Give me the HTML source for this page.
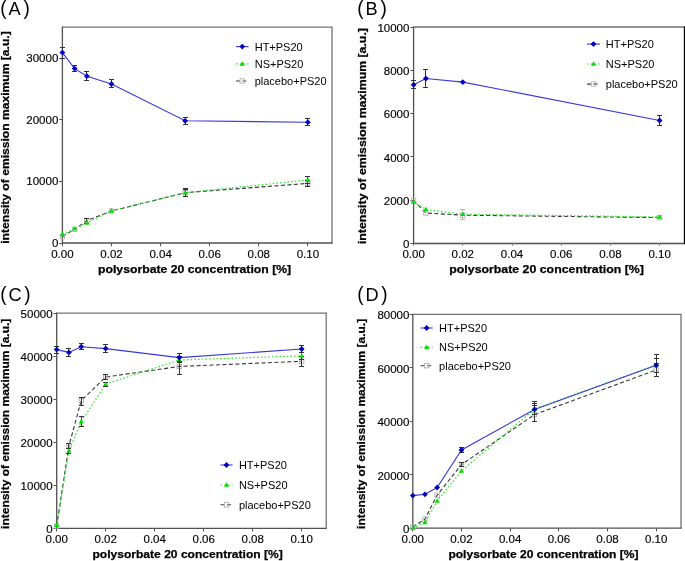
<!DOCTYPE html>
<html><head><meta charset="utf-8"><style>
html,body{margin:0;padding:0;background:#fff;width:685px;height:561px;overflow:hidden}
svg{display:block;font-family:"Liberation Sans", sans-serif;will-change:transform}
</style></head><body>
<svg width="685" height="561" viewBox="0 0 685 561">
<rect width="685" height="561" fill="#fff"/>
<text transform="translate(0.2,14.9) scale(1,1.07)" font-size="19" fill="#000">(</text>
<text x="8.5" y="14.9" font-size="18.2" fill="#000">A</text>
<text transform="translate(23.4,14.9) scale(1,1.07)" font-size="19" fill="#000">)</text>
<path d="M62.4 27.2H332V243" stroke="#727272" stroke-width="1.3" fill="none"/>
<path d="M62.4 26.6V243H332.6" stroke="#505050" stroke-width="1.3" fill="none"/>
<path d="M59.2 243.5H62.4" stroke="#505050" stroke-width="1"/>
<text x="58.3" y="247.1" font-size="11.5" text-anchor="end" fill="#000" stroke="#000" stroke-width="0.15">0</text>
<path d="M59.2 181.5H62.4" stroke="#505050" stroke-width="1"/>
<text x="58.3" y="185.44" font-size="11.5" text-anchor="end" fill="#000" stroke="#000" stroke-width="0.15">10000</text>
<path d="M59.2 119.5H62.4" stroke="#505050" stroke-width="1"/>
<text x="58.3" y="123.79" font-size="11.5" text-anchor="end" fill="#000" stroke="#000" stroke-width="0.15">20000</text>
<path d="M59.2 58.5H62.4" stroke="#505050" stroke-width="1"/>
<text x="58.3" y="62.13" font-size="11.5" text-anchor="end" fill="#000" stroke="#000" stroke-width="0.15">30000</text>
<path d="M62.5 243V246.2" stroke="#505050" stroke-width="1"/>
<text x="62.4" y="257.5" font-size="11.5" text-anchor="middle" fill="#000" stroke="#000" stroke-width="0.15">0.00</text>
<path d="M111.5 243V246.2" stroke="#505050" stroke-width="1"/>
<text x="111.5" y="257.5" font-size="11.5" text-anchor="middle" fill="#000" stroke="#000" stroke-width="0.15">0.02</text>
<path d="M160.5 243V246.2" stroke="#505050" stroke-width="1"/>
<text x="160.6" y="257.5" font-size="11.5" text-anchor="middle" fill="#000" stroke="#000" stroke-width="0.15">0.04</text>
<path d="M209.5 243V246.2" stroke="#505050" stroke-width="1"/>
<text x="209.7" y="257.5" font-size="11.5" text-anchor="middle" fill="#000" stroke="#000" stroke-width="0.15">0.06</text>
<path d="M258.5 243V246.2" stroke="#505050" stroke-width="1"/>
<text x="258.8" y="257.5" font-size="11.5" text-anchor="middle" fill="#000" stroke="#000" stroke-width="0.15">0.08</text>
<path d="M307.5 243V246.2" stroke="#505050" stroke-width="1"/>
<text x="307.9" y="257.5" font-size="11.5" text-anchor="middle" fill="#000" stroke="#000" stroke-width="0.15">0.10</text>
<text x="98" y="273.2" font-size="11" font-weight="bold" fill="#000" stroke="#000" stroke-width="0.25" textLength="193.2" lengthAdjust="spacingAndGlyphs">polysorbate 20 concentration [%]</text>
<text transform="translate(8.8,137.5) rotate(-90)" x="0" y="0" font-size="11" font-weight="bold" text-anchor="middle" fill="#000" stroke="#000" stroke-width="0.25" textLength="212.5" lengthAdjust="spacingAndGlyphs">intensity of emission maximum [a.u.]</text>
<polyline points="62.4,236.4 74.67,229.3 86.95,220.5 111.5,211 185.15,192.7 307.9,183.4" fill="none" stroke="#383838" stroke-width="1.1" stroke-dasharray="4 2.5"/>
<polyline points="62.4,234.3 74.67,228.7 86.95,222.8 111.5,210.8 185.15,192.7 307.9,180" fill="none" stroke="#22ee22" stroke-width="1.2" stroke-dasharray="1.6 2.1"/>
<polyline points="62.4,52.6 74.67,68.6 86.95,76.2 111.5,84 185.15,120.8 307.9,122.2" fill="none" stroke="#3838dc" stroke-width="1.1"/>
<rect x="60.2" y="234.2" width="4.4" height="4.4" fill="none" stroke="#b0b0b0" stroke-width="0.9"/>
<rect x="72.47" y="227.1" width="4.4" height="4.4" fill="none" stroke="#b0b0b0" stroke-width="0.9"/>
<rect x="84.75" y="218.3" width="4.4" height="4.4" fill="none" stroke="#b0b0b0" stroke-width="0.9"/>
<path d="M86.5 218.5V223.5M84 218.5H89M84 223.5H89" stroke="#333333" stroke-width="1" fill="none"/>
<rect x="109.3" y="208.8" width="4.4" height="4.4" fill="none" stroke="#b0b0b0" stroke-width="0.9"/>
<rect x="182.95" y="190.5" width="4.4" height="4.4" fill="none" stroke="#b0b0b0" stroke-width="0.9"/>
<path d="M185.5 189.5V196.5M183 189.5H188M183 196.5H188" stroke="#333333" stroke-width="1" fill="none"/>
<rect x="305.7" y="181.2" width="4.4" height="4.4" fill="none" stroke="#b0b0b0" stroke-width="0.9"/>
<path d="M307.5 180.5V186.5M305 180.5H310M305 186.5H310" stroke="#333333" stroke-width="1" fill="none"/>
<polygon points="62.4,231.54 64.9,236.14 59.9,236.14" fill="#00dd00"/>
<polygon points="74.67,225.94 77.17,230.54 72.17,230.54" fill="#00dd00"/>
<polygon points="86.95,220.04 89.45,224.64 84.45,224.64" fill="#00dd00"/>
<polygon points="111.5,208.04 114,212.64 109,212.64" fill="#00dd00"/>
<path d="M185.5 188.5V196.5M183 188.5H188M183 196.5H188" stroke="#333333" stroke-width="1" fill="none"/>
<polygon points="185.15,189.94 187.65,194.54 182.65,194.54" fill="#00dd00"/>
<path d="M307.5 176.5V183.5M305 176.5H310M305 183.5H310" stroke="#333333" stroke-width="1" fill="none"/>
<polygon points="307.9,177.24 310.4,181.84 305.4,181.84" fill="#00dd00"/>
<path d="M62.5 47.5V58.5M60 47.5H65M60 58.5H65" stroke="#333333" stroke-width="1" fill="none"/>
<polygon points="62.4,49.7 65.3,52.6 62.4,55.5 59.5,52.6" fill="#0000c0"/>
<path d="M74.5 65.5V71.5M72 65.5H77M72 71.5H77" stroke="#333333" stroke-width="1" fill="none"/>
<polygon points="74.67,65.7 77.58,68.6 74.67,71.5 71.77,68.6" fill="#0000c0"/>
<path d="M86.5 71.5V80.5M84 71.5H89M84 80.5H89" stroke="#333333" stroke-width="1" fill="none"/>
<polygon points="86.95,73.3 89.85,76.2 86.95,79.1 84.05,76.2" fill="#0000c0"/>
<path d="M111.5 79.5V87.5M109 79.5H114M109 87.5H114" stroke="#333333" stroke-width="1" fill="none"/>
<polygon points="111.5,81.1 114.4,84 111.5,86.9 108.6,84" fill="#0000c0"/>
<path d="M185.5 117.5V124.5M183 117.5H188M183 124.5H188" stroke="#333333" stroke-width="1" fill="none"/>
<polygon points="185.15,117.9 188.05,120.8 185.15,123.7 182.25,120.8" fill="#0000c0"/>
<path d="M307.5 118.5V125.5M305 118.5H310M305 125.5H310" stroke="#333333" stroke-width="1" fill="none"/>
<polygon points="307.9,119.3 310.8,122.2 307.9,125.1 305,122.2" fill="#0000c0"/>
<path d="M236 46.6H248.5" stroke="#3838dc" stroke-width="1.1"/>
<polygon points="242.25,43.7 245.15,46.6 242.25,49.5 239.35,46.6" fill="#0000c0"/>
<path d="M236 63.8H248.5" stroke="#22ee22" stroke-width="1.2" stroke-dasharray="1.6 2.1"/>
<polygon points="242.25,61.04 244.75,65.64 239.75,65.64" fill="#00dd00"/>
<path d="M236 81H248.5" stroke="#383838" stroke-width="1.1" stroke-dasharray="4 2.5"/>
<rect x="240.05" y="78.8" width="4.4" height="4.4" fill="none" stroke="#b0b0b0" stroke-width="0.9"/>
<text x="254.7" y="50.6" font-size="11" fill="#000">HT+PS20</text>
<text x="254.7" y="67.8" font-size="11" fill="#000">NS+PS20</text>
<text x="254.7" y="85" font-size="11" fill="#000">placebo+PS20</text>
<text transform="translate(357.2,14.9) scale(1,1.07)" font-size="19" fill="#000">(</text>
<text x="365.5" y="14.9" font-size="18.2" fill="#000">B</text>
<text transform="translate(380.4,14.9) scale(1,1.07)" font-size="19" fill="#000">)</text>
<path d="M413.6 27H684.5V243.5" stroke="#727272" stroke-width="1.3" fill="none"/>
<path d="M413.6 26.4V243.5H685.1" stroke="#505050" stroke-width="1.3" fill="none"/>
<path d="M684.5 26.4V244.1" stroke="#000" stroke-width="1.2"/>
<path d="M410.4 243.5H413.6" stroke="#505050" stroke-width="1"/>
<text x="409.4" y="248.2" font-size="11.5" text-anchor="end" fill="#000" stroke="#000" stroke-width="0.15">0</text>
<path d="M410.4 200.5H413.6" stroke="#505050" stroke-width="1"/>
<text x="409.4" y="204.9" font-size="11.5" text-anchor="end" fill="#000" stroke="#000" stroke-width="0.15">2000</text>
<path d="M410.4 156.5H413.6" stroke="#505050" stroke-width="1"/>
<text x="409.4" y="161.6" font-size="11.5" text-anchor="end" fill="#000" stroke="#000" stroke-width="0.15">4000</text>
<path d="M410.4 113.5H413.6" stroke="#505050" stroke-width="1"/>
<text x="409.4" y="118.3" font-size="11.5" text-anchor="end" fill="#000" stroke="#000" stroke-width="0.15">6000</text>
<path d="M410.4 70.5H413.6" stroke="#505050" stroke-width="1"/>
<text x="409.4" y="75" font-size="11.5" text-anchor="end" fill="#000" stroke="#000" stroke-width="0.15">8000</text>
<path d="M410.4 27.5H413.6" stroke="#505050" stroke-width="1"/>
<text x="409.4" y="31.7" font-size="11.5" text-anchor="end" fill="#000" stroke="#000" stroke-width="0.15">10000</text>
<path d="M413.5 243.5V245.9" stroke="#8a8a8a" stroke-width="1"/>
<text x="413.6" y="258.1" font-size="11.5" text-anchor="middle" fill="#000" stroke="#000" stroke-width="0.15">0.00</text>
<path d="M462.5 243.5V245.9" stroke="#8a8a8a" stroke-width="1"/>
<text x="462.8" y="258.1" font-size="11.5" text-anchor="middle" fill="#000" stroke="#000" stroke-width="0.15">0.02</text>
<path d="M512.5 243.5V245.9" stroke="#8a8a8a" stroke-width="1"/>
<text x="512" y="258.1" font-size="11.5" text-anchor="middle" fill="#000" stroke="#000" stroke-width="0.15">0.04</text>
<path d="M561.5 243.5V245.9" stroke="#8a8a8a" stroke-width="1"/>
<text x="561.2" y="258.1" font-size="11.5" text-anchor="middle" fill="#000" stroke="#000" stroke-width="0.15">0.06</text>
<path d="M610.5 243.5V245.9" stroke="#8a8a8a" stroke-width="1"/>
<text x="610.4" y="258.1" font-size="11.5" text-anchor="middle" fill="#000" stroke="#000" stroke-width="0.15">0.08</text>
<path d="M659.5 243.5V245.9" stroke="#8a8a8a" stroke-width="1"/>
<text x="659.6" y="258.1" font-size="11.5" text-anchor="middle" fill="#000" stroke="#000" stroke-width="0.15">0.10</text>
<text x="449.3" y="273.4" font-size="11" font-weight="bold" fill="#000" stroke="#000" stroke-width="0.25" textLength="194.6" lengthAdjust="spacingAndGlyphs">polysorbate 20 concentration [%]</text>
<text transform="translate(366.2,136.1) rotate(-90)" x="0" y="0" font-size="11" font-weight="bold" text-anchor="middle" fill="#000" stroke="#000" stroke-width="0.25" textLength="216" lengthAdjust="spacingAndGlyphs">intensity of emission maximum [a.u.]</text>
<polyline points="413.6,200.5 425.9,213 462.8,215.2 659.6,217.6" fill="none" stroke="#383838" stroke-width="1.1" stroke-dasharray="4 2.5"/>
<polyline points="413.6,202 425.9,209.5 462.8,214.2 659.6,216.9" fill="none" stroke="#22ee22" stroke-width="1.2" stroke-dasharray="1.6 2.1"/>
<polyline points="413.6,84.8 425.9,78.5 462.8,82.1 659.6,120.5" fill="none" stroke="#3838dc" stroke-width="1.1"/>
<rect x="411.4" y="198.3" width="4.4" height="4.4" fill="none" stroke="#b0b0b0" stroke-width="0.9"/>
<rect x="423.7" y="210.8" width="4.4" height="4.4" fill="none" stroke="#b0b0b0" stroke-width="0.9"/>
<rect x="460.6" y="213" width="4.4" height="4.4" fill="none" stroke="#b0b0b0" stroke-width="0.9"/>
<path d="M462.5 209.5V219.5M460 209.5H465M460 219.5H465" stroke="#b8b8b8" stroke-width="1" fill="none"/>
<rect x="657.4" y="215.4" width="4.4" height="4.4" fill="none" stroke="#b0b0b0" stroke-width="0.9"/>
<polygon points="413.6,199.24 416.1,203.84 411.1,203.84" fill="#00dd00"/>
<polygon points="425.9,206.74 428.4,211.34 423.4,211.34" fill="#00dd00"/>
<polygon points="462.8,211.44 465.3,216.04 460.3,216.04" fill="#00dd00"/>
<polygon points="659.6,214.14 662.1,218.74 657.1,218.74" fill="#00dd00"/>
<path d="M413.5 80.5V88.5M411 80.5H416M411 88.5H416" stroke="#333333" stroke-width="1" fill="none"/>
<polygon points="413.6,81.9 416.5,84.8 413.6,87.7 410.7,84.8" fill="#0000c0"/>
<path d="M425.5 69.5V87.5M423 69.5H428M423 87.5H428" stroke="#333333" stroke-width="1" fill="none"/>
<polygon points="425.9,75.6 428.8,78.5 425.9,81.4 423,78.5" fill="#0000c0"/>
<polygon points="462.8,79.2 465.7,82.1 462.8,85 459.9,82.1" fill="#0000c0"/>
<path d="M659.5 115.5V125.5M657 115.5H662M657 125.5H662" stroke="#333333" stroke-width="1" fill="none"/>
<polygon points="659.6,117.6 662.5,120.5 659.6,123.4 656.7,120.5" fill="#0000c0"/>
<path d="M587 44.1H600" stroke="#3838dc" stroke-width="1.1"/>
<polygon points="593.5,41.2 596.4,44.1 593.5,47 590.6,44.1" fill="#0000c0"/>
<path d="M587 64H600" stroke="#22ee22" stroke-width="1.2" stroke-dasharray="1.6 2.1"/>
<polygon points="593.5,61.24 596,65.84 591,65.84" fill="#00dd00"/>
<path d="M587 84.1H600" stroke="#383838" stroke-width="1.1" stroke-dasharray="4 2.5"/>
<rect x="591.3" y="81.9" width="4.4" height="4.4" fill="none" stroke="#b0b0b0" stroke-width="0.9"/>
<text x="605.8" y="48.1" font-size="11" fill="#000">HT+PS20</text>
<text x="605.8" y="68" font-size="11" fill="#000">NS+PS20</text>
<text x="605.8" y="88.1" font-size="11" fill="#000">placebo+PS20</text>
<text transform="translate(0.2,300.9) scale(1,1.07)" font-size="19" fill="#000">(</text>
<text x="8.5" y="300.9" font-size="18.2" fill="#000">C</text>
<text transform="translate(24.2,300.9) scale(1,1.07)" font-size="19" fill="#000">)</text>
<path d="M56.7 313.1H326.2V528.3" stroke="#727272" stroke-width="1.3" fill="none"/>
<path d="M56.7 312.5V528.3H326.8" stroke="#505050" stroke-width="1.3" fill="none"/>
<path d="M53.5 528.5H56.7" stroke="#505050" stroke-width="1"/>
<text x="52.6" y="533" font-size="11.5" text-anchor="end" fill="#000" stroke="#000" stroke-width="0.15">0</text>
<path d="M53.5 485.5H56.7" stroke="#505050" stroke-width="1"/>
<text x="52.6" y="489.96" font-size="11.5" text-anchor="end" fill="#000" stroke="#000" stroke-width="0.15">10000</text>
<path d="M53.5 442.5H56.7" stroke="#505050" stroke-width="1"/>
<text x="52.6" y="446.92" font-size="11.5" text-anchor="end" fill="#000" stroke="#000" stroke-width="0.15">20000</text>
<path d="M53.5 399.5H56.7" stroke="#505050" stroke-width="1"/>
<text x="52.6" y="403.88" font-size="11.5" text-anchor="end" fill="#000" stroke="#000" stroke-width="0.15">30000</text>
<path d="M53.5 356.5H56.7" stroke="#505050" stroke-width="1"/>
<text x="52.6" y="360.84" font-size="11.5" text-anchor="end" fill="#000" stroke="#000" stroke-width="0.15">40000</text>
<path d="M53.5 313.5H56.7" stroke="#505050" stroke-width="1"/>
<text x="52.6" y="317.8" font-size="11.5" text-anchor="end" fill="#000" stroke="#000" stroke-width="0.15">50000</text>
<path d="M56.5 528.3V531.5" stroke="#505050" stroke-width="1"/>
<text x="56.7" y="543.3" font-size="11.5" text-anchor="middle" fill="#000" stroke="#000" stroke-width="0.15">0.00</text>
<path d="M105.5 528.3V531.5" stroke="#505050" stroke-width="1"/>
<text x="105.7" y="543.3" font-size="11.5" text-anchor="middle" fill="#000" stroke="#000" stroke-width="0.15">0.02</text>
<path d="M154.5 528.3V531.5" stroke="#505050" stroke-width="1"/>
<text x="154.7" y="543.3" font-size="11.5" text-anchor="middle" fill="#000" stroke="#000" stroke-width="0.15">0.04</text>
<path d="M203.5 528.3V531.5" stroke="#505050" stroke-width="1"/>
<text x="203.7" y="543.3" font-size="11.5" text-anchor="middle" fill="#000" stroke="#000" stroke-width="0.15">0.06</text>
<path d="M252.5 528.3V531.5" stroke="#505050" stroke-width="1"/>
<text x="252.7" y="543.3" font-size="11.5" text-anchor="middle" fill="#000" stroke="#000" stroke-width="0.15">0.08</text>
<path d="M301.5 528.3V531.5" stroke="#505050" stroke-width="1"/>
<text x="301.7" y="543.3" font-size="11.5" text-anchor="middle" fill="#000" stroke="#000" stroke-width="0.15">0.10</text>
<text x="92.4" y="557.9" font-size="11" font-weight="bold" fill="#000" stroke="#000" stroke-width="0.25" textLength="190.4" lengthAdjust="spacingAndGlyphs">polysorbate 20 concentration [%]</text>
<text transform="translate(8.8,423.8) rotate(-90)" x="0" y="0" font-size="11" font-weight="bold" text-anchor="middle" fill="#000" stroke="#000" stroke-width="0.25" textLength="210.2" lengthAdjust="spacingAndGlyphs">intensity of emission maximum [a.u.]</text>
<polyline points="56.7,526 68.95,445.7 81.2,400.7 105.7,377 179.2,366.5 301.7,361.3" fill="none" stroke="#383838" stroke-width="1.1" stroke-dasharray="4 2.5"/>
<polyline points="56.7,525.1 68.95,450.7 81.2,421.7 105.7,384.1 179.2,360 301.7,355.9" fill="none" stroke="#22ee22" stroke-width="1.2" stroke-dasharray="1.6 2.1"/>
<polyline points="56.7,349.6 68.95,352.4 81.2,346.7 105.7,348.6 179.2,357.6 301.7,349" fill="none" stroke="#3838dc" stroke-width="1.1"/>
<rect x="54.5" y="523.8" width="4.4" height="4.4" fill="none" stroke="#b0b0b0" stroke-width="0.9"/>
<rect x="66.75" y="443.5" width="4.4" height="4.4" fill="none" stroke="#b0b0b0" stroke-width="0.9"/>
<path d="M68.5 443.5V448.5M66 443.5H71M66 448.5H71" stroke="#333333" stroke-width="1" fill="none"/>
<rect x="79" y="398.5" width="4.4" height="4.4" fill="none" stroke="#b0b0b0" stroke-width="0.9"/>
<path d="M81.5 397.5V405.5M79 397.5H84M79 405.5H84" stroke="#333333" stroke-width="1" fill="none"/>
<rect x="103.5" y="374.8" width="4.4" height="4.4" fill="none" stroke="#b0b0b0" stroke-width="0.9"/>
<path d="M105.5 374.5V379.5M103 374.5H108M103 379.5H108" stroke="#333333" stroke-width="1" fill="none"/>
<rect x="177" y="364.3" width="4.4" height="4.4" fill="none" stroke="#b0b0b0" stroke-width="0.9"/>
<path d="M179.5 362.5V374.5M177 362.5H182M177 374.5H182" stroke="#333333" stroke-width="1" fill="none"/>
<rect x="299.5" y="359.1" width="4.4" height="4.4" fill="none" stroke="#b0b0b0" stroke-width="0.9"/>
<path d="M301.5 356.5V366.5M299 356.5H304M299 366.5H304" stroke="#333333" stroke-width="1" fill="none"/>
<polygon points="56.7,522.34 59.2,526.94 54.2,526.94" fill="#00dd00"/>
<path d="M68.5 448.5V453.5M66 448.5H71M66 453.5H71" stroke="#333333" stroke-width="1" fill="none"/>
<polygon points="68.95,447.94 71.45,452.54 66.45,452.54" fill="#00dd00"/>
<path d="M81.5 416.5V426.5M79 416.5H84M79 426.5H84" stroke="#333333" stroke-width="1" fill="none"/>
<polygon points="81.2,418.94 83.7,423.54 78.7,423.54" fill="#00dd00"/>
<path d="M105.5 382.5V386.5M103 382.5H108M103 386.5H108" stroke="#333333" stroke-width="1" fill="none"/>
<polygon points="105.7,381.34 108.2,385.94 103.2,385.94" fill="#00dd00"/>
<path d="M179.5 356.5V362.5M177 356.5H182M177 362.5H182" stroke="#333333" stroke-width="1" fill="none"/>
<polygon points="179.2,357.24 181.7,361.84 176.7,361.84" fill="#00dd00"/>
<path d="M301.5 352.5V359.5M299 352.5H304M299 359.5H304" stroke="#333333" stroke-width="1" fill="none"/>
<polygon points="301.7,353.14 304.2,357.74 299.2,357.74" fill="#00dd00"/>
<path d="M56.5 346.5V353.5M54 346.5H59M54 353.5H59" stroke="#333333" stroke-width="1" fill="none"/>
<polygon points="56.7,346.7 59.6,349.6 56.7,352.5 53.8,349.6" fill="#0000c0"/>
<path d="M68.5 348.5V356.5M66 348.5H71M66 356.5H71" stroke="#333333" stroke-width="1" fill="none"/>
<polygon points="68.95,349.5 71.85,352.4 68.95,355.3 66.05,352.4" fill="#0000c0"/>
<path d="M81.5 343.5V349.5M79 343.5H84M79 349.5H84" stroke="#333333" stroke-width="1" fill="none"/>
<polygon points="81.2,343.8 84.1,346.7 81.2,349.6 78.3,346.7" fill="#0000c0"/>
<path d="M105.5 344.5V352.5M103 344.5H108M103 352.5H108" stroke="#333333" stroke-width="1" fill="none"/>
<polygon points="105.7,345.7 108.6,348.6 105.7,351.5 102.8,348.6" fill="#0000c0"/>
<path d="M179.5 353.5V361.5M177 353.5H182M177 361.5H182" stroke="#333333" stroke-width="1" fill="none"/>
<polygon points="179.2,354.7 182.1,357.6 179.2,360.5 176.3,357.6" fill="#0000c0"/>
<path d="M301.5 345.5V352.5M299 345.5H304M299 352.5H304" stroke="#333333" stroke-width="1" fill="none"/>
<polygon points="301.7,346.1 304.6,349 301.7,351.9 298.8,349" fill="#0000c0"/>
<path d="M220.5 465H232.5" stroke="#3838dc" stroke-width="1.1"/>
<polygon points="226.5,462.1 229.4,465 226.5,467.9 223.6,465" fill="#0000c0"/>
<path d="M220.5 485H232.5" stroke="#22ee22" stroke-width="1.2" stroke-dasharray="1.6 2.1"/>
<polygon points="226.5,482.24 229,486.84 224,486.84" fill="#00dd00"/>
<path d="M220.5 504.8H232.5" stroke="#383838" stroke-width="1.1" stroke-dasharray="4 2.5"/>
<rect x="224.3" y="502.6" width="4.4" height="4.4" fill="none" stroke="#b0b0b0" stroke-width="0.9"/>
<text x="238.9" y="469" font-size="11" fill="#000">HT+PS20</text>
<text x="238.9" y="489" font-size="11" fill="#000">NS+PS20</text>
<text x="238.9" y="508.8" font-size="11" fill="#000">placebo+PS20</text>
<text transform="translate(357.2,300.9) scale(1,1.07)" font-size="19" fill="#000">(</text>
<text x="365.5" y="300.9" font-size="18.2" fill="#000">D</text>
<text transform="translate(381.2,300.9) scale(1,1.07)" font-size="19" fill="#000">)</text>
<path d="M412.8 314.3H681V528.2" stroke="#727272" stroke-width="1.3" fill="none"/>
<path d="M412.8 313.7V528.2H681.6" stroke="#505050" stroke-width="1.3" fill="none"/>
<path d="M409.6 528.5H412.8" stroke="#505050" stroke-width="1"/>
<text x="409.4" y="533.1" font-size="11.5" text-anchor="end" fill="#000" stroke="#000" stroke-width="0.15">0</text>
<path d="M409.6 474.5H412.8" stroke="#505050" stroke-width="1"/>
<text x="409.4" y="479.63" font-size="11.5" text-anchor="end" fill="#000" stroke="#000" stroke-width="0.15">20000</text>
<path d="M409.6 421.5H412.8" stroke="#505050" stroke-width="1"/>
<text x="409.4" y="426.15" font-size="11.5" text-anchor="end" fill="#000" stroke="#000" stroke-width="0.15">40000</text>
<path d="M409.6 367.5H412.8" stroke="#505050" stroke-width="1"/>
<text x="409.4" y="372.68" font-size="11.5" text-anchor="end" fill="#000" stroke="#000" stroke-width="0.15">60000</text>
<path d="M409.6 314.5H412.8" stroke="#505050" stroke-width="1"/>
<text x="409.4" y="319.2" font-size="11.5" text-anchor="end" fill="#000" stroke="#000" stroke-width="0.15">80000</text>
<path d="M412.5 528.2V531.4" stroke="#505050" stroke-width="1"/>
<text x="412.8" y="543.2" font-size="11.5" text-anchor="middle" fill="#000" stroke="#000" stroke-width="0.15">0.00</text>
<path d="M461.5 528.2V531.4" stroke="#505050" stroke-width="1"/>
<text x="461.48" y="543.2" font-size="11.5" text-anchor="middle" fill="#000" stroke="#000" stroke-width="0.15">0.02</text>
<path d="M510.5 528.2V531.4" stroke="#505050" stroke-width="1"/>
<text x="510.16" y="543.2" font-size="11.5" text-anchor="middle" fill="#000" stroke="#000" stroke-width="0.15">0.04</text>
<path d="M558.5 528.2V531.4" stroke="#505050" stroke-width="1"/>
<text x="558.84" y="543.2" font-size="11.5" text-anchor="middle" fill="#000" stroke="#000" stroke-width="0.15">0.06</text>
<path d="M607.5 528.2V531.4" stroke="#505050" stroke-width="1"/>
<text x="607.52" y="543.2" font-size="11.5" text-anchor="middle" fill="#000" stroke="#000" stroke-width="0.15">0.08</text>
<path d="M656.5 528.2V531.4" stroke="#505050" stroke-width="1"/>
<text x="656.2" y="543.2" font-size="11.5" text-anchor="middle" fill="#000" stroke="#000" stroke-width="0.15">0.10</text>
<text x="448.4" y="557.9" font-size="11" font-weight="bold" fill="#000" stroke="#000" stroke-width="0.25" textLength="190.1" lengthAdjust="spacingAndGlyphs">polysorbate 20 concentration [%]</text>
<text transform="translate(365.3,423.9) rotate(-90)" x="0" y="0" font-size="11" font-weight="bold" text-anchor="middle" fill="#000" stroke="#000" stroke-width="0.25" textLength="210" lengthAdjust="spacingAndGlyphs">intensity of emission maximum [a.u.]</text>
<polyline points="412.8,527 424.97,519.1 437.14,495.1 461.48,464.6 534.5,414.6 656.2,370" fill="none" stroke="#383838" stroke-width="1.1" stroke-dasharray="4 2.5"/>
<polyline points="412.8,527.9 424.97,522.3 437.14,501 461.48,471 534.5,409 656.2,365" fill="none" stroke="#22ee22" stroke-width="1.2" stroke-dasharray="1.6 2.1"/>
<polyline points="412.8,495.6 424.97,494.3 437.14,487.5 461.48,450 534.5,409.4 656.2,365.3" fill="none" stroke="#3838dc" stroke-width="1.1"/>
<rect x="410.6" y="524.8" width="4.4" height="4.4" fill="none" stroke="#b0b0b0" stroke-width="0.9"/>
<rect x="422.77" y="516.9" width="4.4" height="4.4" fill="none" stroke="#b0b0b0" stroke-width="0.9"/>
<rect x="434.94" y="492.9" width="4.4" height="4.4" fill="none" stroke="#b0b0b0" stroke-width="0.9"/>
<rect x="459.28" y="462.4" width="4.4" height="4.4" fill="none" stroke="#b0b0b0" stroke-width="0.9"/>
<path d="M461.5 462.5V466.5M459 462.5H464M459 466.5H464" stroke="#333333" stroke-width="1" fill="none"/>
<rect x="532.3" y="412.4" width="4.4" height="4.4" fill="none" stroke="#b0b0b0" stroke-width="0.9"/>
<path d="M534.5 405.5V421.5M532 405.5H537M532 421.5H537" stroke="#333333" stroke-width="1" fill="none"/>
<rect x="654" y="367.8" width="4.4" height="4.4" fill="none" stroke="#b0b0b0" stroke-width="0.9"/>
<path d="M656.5 363.5V376.5M654 363.5H659M654 376.5H659" stroke="#333333" stroke-width="1" fill="none"/>
<polygon points="412.8,525.14 415.3,529.74 410.3,529.74" fill="#00dd00"/>
<polygon points="424.97,519.54 427.47,524.14 422.47,524.14" fill="#00dd00"/>
<polygon points="437.14,498.24 439.64,502.84 434.64,502.84" fill="#00dd00"/>
<polygon points="461.48,468.24 463.98,472.84 458.98,472.84" fill="#00dd00"/>
<path d="M534.5 403.5V414.5M532 403.5H537M532 414.5H537" stroke="#333333" stroke-width="1" fill="none"/>
<polygon points="534.5,406.24 537,410.84 532,410.84" fill="#00dd00"/>
<path d="M656.5 358.5V372.5M654 358.5H659M654 372.5H659" stroke="#333333" stroke-width="1" fill="none"/>
<polygon points="656.2,362.24 658.7,366.84 653.7,366.84" fill="#00dd00"/>
<polygon points="412.8,492.7 415.7,495.6 412.8,498.5 409.9,495.6" fill="#0000c0"/>
<polygon points="424.97,491.4 427.87,494.3 424.97,497.2 422.07,494.3" fill="#0000c0"/>
<polygon points="437.14,484.6 440.04,487.5 437.14,490.4 434.24,487.5" fill="#0000c0"/>
<path d="M461.5 447.5V452.5M459 447.5H464M459 452.5H464" stroke="#333333" stroke-width="1" fill="none"/>
<polygon points="461.48,447.1 464.38,450 461.48,452.9 458.58,450" fill="#0000c0"/>
<path d="M534.5 401.5V414.5M532 401.5H537M532 414.5H537" stroke="#333333" stroke-width="1" fill="none"/>
<polygon points="534.5,406.5 537.4,409.4 534.5,412.3 531.6,409.4" fill="#0000c0"/>
<path d="M656.5 354.5V376.5M654 354.5H659M654 376.5H659" stroke="#333333" stroke-width="1" fill="none"/>
<polygon points="656.2,362.4 659.1,365.3 656.2,368.2 653.3,365.3" fill="#0000c0"/>
<path d="M420.6 328H432.7" stroke="#3838dc" stroke-width="1.1"/>
<polygon points="426.65,325.1 429.55,328 426.65,330.9 423.75,328" fill="#0000c0"/>
<path d="M420.6 347.3H432.7" stroke="#22ee22" stroke-width="1.2" stroke-dasharray="1.6 2.1"/>
<polygon points="426.65,344.54 429.15,349.14 424.15,349.14" fill="#00dd00"/>
<path d="M420.6 365.7H432.7" stroke="#383838" stroke-width="1.1" stroke-dasharray="4 2.5"/>
<rect x="424.45" y="363.5" width="4.4" height="4.4" fill="none" stroke="#b0b0b0" stroke-width="0.9"/>
<text x="439.1" y="332" font-size="11" fill="#000">HT+PS20</text>
<text x="439.1" y="351.3" font-size="11" fill="#000">NS+PS20</text>
<text x="439.1" y="369.7" font-size="11" fill="#000">placebo+PS20</text>
</svg>
</body></html>
